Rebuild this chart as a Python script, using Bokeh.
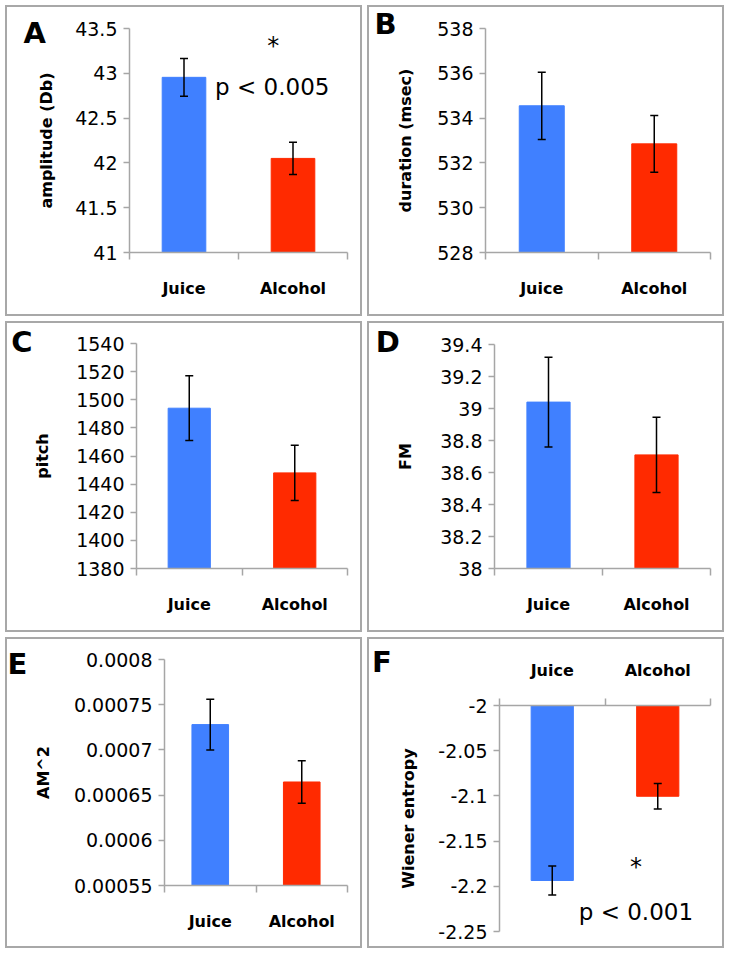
from bokeh.plotting import figure
from bokeh.layouts import row, column
from bokeh.models import FixedTicker, Whisker, TeeHead, ColumnDataSource, Label, Range1d
from bokeh.embed import file_html
from bokeh.resources import INLINE

# ---------------- data ----------------
categories = ["Juice", "Alcohol"]
bar_colors = ["#4080ff", "#ff2a00"]

amp_mean = [42.955, 42.05]
amp_err = [0.21, 0.18]
amp_ticks = [41, 41.5, 42, 42.5, 43, 43.5]
amp_labels = ["41", "41.5", "42", "42.5", "43", "43.5"]

dur_mean = [534.55, 532.85]
dur_err = [1.5, 1.27]
dur_ticks = [528, 530, 532, 534, 536, 538]
dur_labels = ["528", "530", "532", "534", "536", "538"]

pitch_mean = [1494, 1448]
pitch_err = [23, 19.7]
pitch_ticks = [1380, 1400, 1420, 1440, 1460, 1480, 1500, 1520, 1540]
pitch_labels = ["1380", "1400", "1420", "1440", "1460", "1480", "1500", "1520", "1540"]

fm_mean = [39.04, 38.71]
fm_err = [0.28, 0.235]
fm_ticks = [38, 38.2, 38.4, 38.6, 38.8, 39, 39.2, 39.4]
fm_labels = ["38", "38.2", "38.4", "38.6", "38.8", "39", "39.2", "39.4"]

am_mean = [0.000728, 0.0006645]
am_err = [0.000028, 0.0000235]
am_ticks = [0.00055, 0.0006, 0.00065, 0.0007, 0.00075, 0.0008]
am_labels = ["0.00055", "0.0006", "0.00065", "0.0007", "0.00075", "0.0008"]

we_mean = [-2.1936, -2.1004]
we_err = [0.016, 0.014]
we_ticks = [-2.25, -2.2, -2.15, -2.1, -2.05, -2]
we_labels = ["-2.25", "-2.2", "-2.15", "-2.1", "-2.05", "-2"]

# ---------------- styling ----------------
AXIS_GRAY = "#a6a6a6"
BORDER_GRAY = "#a8a8a8"
FONT = "DejaVu Sans"
W, H = 353, 307


def make_panel(letter, ylabel, means, errs, ticks, labels, ml, mt, fw, fh,
               letter_xy, label_standoff, above=False, notes=()):
    p = figure(width=W, height=H,
               x_range=Range1d(0, len(categories)),
               y_range=Range1d(ticks[0], ticks[-1]),
               output_backend="svg", toolbar_location=None,
               min_border_left=ml, min_border_top=mt,
               min_border_right=W - ml - fw, min_border_bottom=H - mt - fh,
               x_axis_location="above" if above else "below",
               frame_align=False,
               styles={"border": "2px solid " + BORDER_GRAY, "box-sizing": "content-box"})
    p.outline_line_color = None
    p.xgrid.visible = False
    p.ygrid.visible = False
    p.background_fill_color = "white"
    p.border_fill_color = "white"

    xs = [i + 0.5 for i in range(len(categories))]
    lo, hi = ticks[0], ticks[-1]
    base = min(max(0, lo), hi)
    src = ColumnDataSource(dict(
        x=xs, mean=means, base=[base] * len(xs), color=bar_colors,
        upper=[m + e for m, e in zip(means, errs)],
        lower=[m - e for m, e in zip(means, errs)]))
    p.vbar(x="x", top="mean", bottom="base", width=0.4, color="color", source=src)
    p.add_layout(Whisker(source=src, base="x", upper="upper", lower="lower",
                         level="overlay", line_color="black", line_width=1.5,
                         upper_head=TeeHead(size=8, line_color="black", line_width=1.5),
                         lower_head=TeeHead(size=8, line_color="black", line_width=1.5)))

    xa = p.xaxis[0]
    xa.ticker = FixedTicker(ticks=xs, minor_ticks=list(range(len(categories) + 1)))
    xa.major_label_overrides = {x: c for x, c in zip(xs, categories)}
    xa.major_tick_out = 0
    xa.major_tick_in = 0
    xa.minor_tick_out = 7
    xa.minor_tick_in = 0
    xa.axis_line_color = AXIS_GRAY
    xa.axis_line_width = 1.5
    xa.minor_tick_line_color = AXIS_GRAY
    xa.minor_tick_line_width = 1.5
    xa.major_label_standoff = 19
    xa.major_label_text_font = FONT
    xa.major_label_text_font_style = "bold"
    xa.major_label_text_font_size = "16px"
    xa.major_label_text_color = "black"

    ya = p.yaxis[0]
    ya.ticker = FixedTicker(ticks=ticks)
    ya.major_label_overrides = dict(zip(ticks, labels))
    ya.major_tick_out = 6
    ya.major_tick_in = 0
    ya.minor_tick_line_color = None
    ya.axis_line_color = AXIS_GRAY
    ya.axis_line_width = 1.5
    ya.major_tick_line_color = AXIS_GRAY
    ya.major_tick_line_width = 1.5
    ya.major_label_standoff = 6
    ya.major_label_text_font = FONT
    ya.major_label_text_font_size = "19px"
    ya.major_label_text_color = "black"
    ya.axis_label = ylabel
    ya.axis_label_text_font = FONT
    ya.axis_label_text_font_style = "bold"
    ya.axis_label_text_font_size = "16px"
    ya.axis_label_text_color = "black"
    ya.axis_label_standoff = label_standoff

    # panel letter lives in the left side panel so that it is not clipped to the frame
    p.add_layout(Label(x=letter_xy[0], y=letter_xy[1],
                       text=letter, text_font=FONT, text_font_style="bold",
                       text_font_size="29px", text_color="black",
                       text_align="left", text_baseline="middle"), "left")
    for (tx, ty, txt, size, align) in notes:
        p.add_layout(Label(x=tx, y=ty, text=txt, text_font=FONT, text_font_size=size,
                           text_color="black", text_align=align,
                           text_baseline="middle", level="overlay"))
    return p


pA = make_panel("A", "amplitude (Db)", amp_mean, amp_err, amp_ticks, amp_labels,
                122, 21, 214, 220, (-0.972, 43.449), 16,
                notes=[(1.318, 43.307, "*", "24px", "center"),
                       (0.785, 42.852, "p < 0.005", "23px", "left")])
pB = make_panel("B", "duration (msec)", dur_mean, dur_err, dur_ticks, dur_labels,
                116, 21, 221, 220, (-0.986, 538.18), 19)
pC = make_panel("C", "pitch", pitch_mean, pitch_err, pitch_ticks, pitch_labels,
                129, 20, 207, 221, (-1.188, 1541.4), 21)
pD = make_panel("D", "FM", fm_mean, fm_err, fm_ticks, fm_labels,
                124, 21, 213, 220, (-1.099, 39.413), 22)
pE = make_panel("E", "AM^2", am_mean, am_err, am_ticks, am_labels,
                157, 20, 179, 222, (-1.715, 0.0007955), 18)
pF = make_panel("F", "Wiener entropy", we_mean, we_err, we_ticks, we_labels,
                130, 66, 207, 222, (-1.208, -1.9516), 17, above=True,
                notes=[(1.295, -2.179, "*", "24px", "center"),
                       (0.751, -2.228, "p < 0.001", "23px", "left")])

layout = column(row(pA, pB, spacing=5), row(pC, pD, spacing=5), row(pE, pF, spacing=5),
                spacing=5, margin=(5, 0, 0, 5))

open("out.html", "w").write(file_html(layout, INLINE))
